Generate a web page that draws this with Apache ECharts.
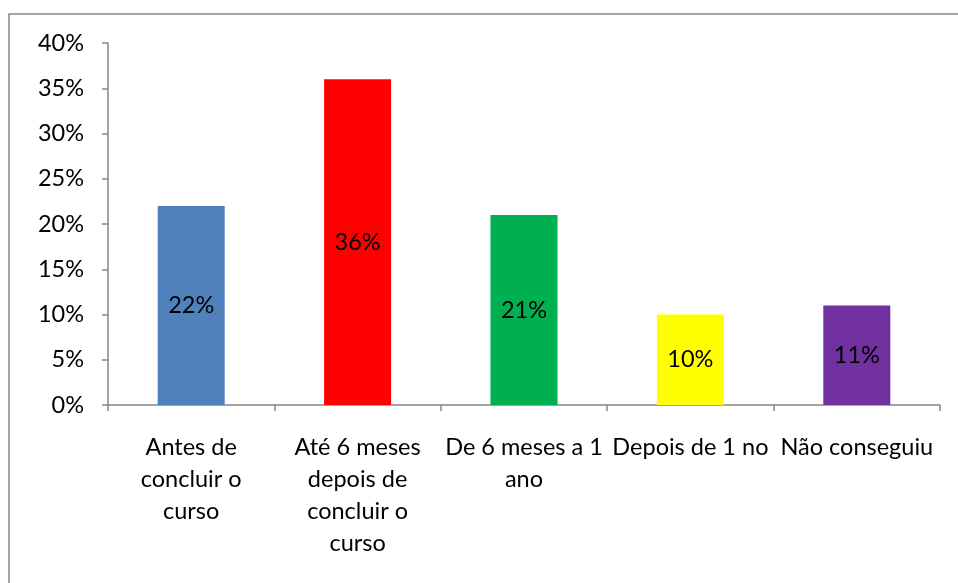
<!DOCTYPE html>
<html><head><meta charset="utf-8">
<script src="https://cdn.jsdelivr.net/npm/echarts@6/dist/echarts.min.js"></script>
<style>html,body{margin:0;padding:0;background:#fff}#c{width:958px;height:583px}</style>
</head><body><div id="c"></div>
<script>
var categories = ['Antes de\nconcluir o\ncurso', 'Até 6 meses\ndepois de\nconcluir o\ncurso', 'De 6 meses a 1\nano', 'Depois de 1 no', 'Não conseguiu'];
var values = [22, 36, 21, 10, 11];
var colors = ['#4F81BD', '#FF0000', '#00B050', '#FFFF00', '#7030A0'];
var yTicks = [0, 5, 10, 15, 20, 25, 30, 35, 40];

var FONT = 'Lato';
var FS = 23.5;
var chart = echarts.init(document.getElementById('c'), null, {renderer: 'canvas'});
chart.setOption({
  animation: false,
  backgroundColor: '#fff',
  graphic: [{
    type: 'rect', shape: {x: 9, y: 14, width: 960, height: 580},
    style: {fill: 'none', stroke: '#888', lineWidth: 1.5}, silent: true
  }],
  grid: {left: 108, top: 43, right: 18, bottom: 178, containLabel: false},
  xAxis: {
    type: 'category', data: categories,
    axisLine: {lineStyle: {color: '#868686', width: 1.5}},
    axisTick: {show: true, length: 6, alignWithLabel: false, lineStyle: {color: '#868686', width: 1.5}},
    axisLabel: {interval: 0, margin: 26, color: '#000', fontFamily: FONT, fontSize: FS, lineHeight: 32, align: 'center'}
  },
  yAxis: {
    type: 'value', min: yTicks[0], max: yTicks[yTicks.length - 1], interval: 5,
    splitLine: {show: false},
    axisLine: {show: true, lineStyle: {color: '#868686', width: 1.5}},
    axisTick: {show: true, length: 6, lineStyle: {color: '#868686', width: 1.5}},
    axisLabel: {margin: 24, color: '#000', fontFamily: FONT, fontSize: FS, formatter: '{value}%'}
  },
  series: [{
    type: 'bar', barWidth: 67,
    data: values.map(function (v, i) { return {value: v, itemStyle: {color: colors[i]}}; }),
    label: {show: true, position: 'inside', color: '#000', fontFamily: FONT, fontSize: FS, formatter: '{c}%'}
  }]
});
</script></body></html>
